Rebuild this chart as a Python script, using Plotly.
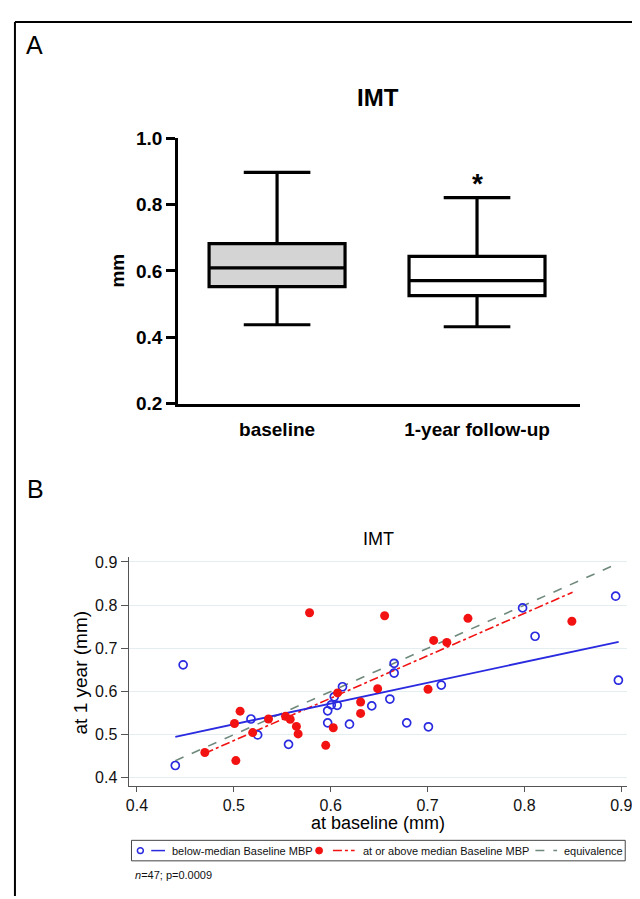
import plotly.graph_objects as go

W, H = 640, 899
OFF = 8  # default page margin of the html body; drawing is shifted to compensate

# ---------------- Panel A data (box summary, mm) ----------------
box_labels = ["baseline", "1-year follow-up"]
box_pos = [0, 1]
box_q1 = [0.553, 0.526]
box_median = [0.609, 0.571]
box_q3 = [0.682, 0.644]
box_low = [0.438, 0.432]
box_high = [0.897, 0.821]
box_fill = ["#d4d4d4", "#ffffff"]
a_yticks = [0.2, 0.4, 0.6, 0.8, 1.0]

# ---------------- Panel B data ----------------
below_x = [0.4477, 0.4396, 0.5177, 0.5246, 0.5565, 0.5969, 0.5969, 0.6006, 0.6067,
           0.6037, 0.6122, 0.6194, 0.6424, 0.7981, 0.8942, 0.8110, 0.6655, 0.6655,
           0.8970, 0.7142, 0.6611, 0.6785, 0.7009]
below_y = [0.6618, 0.4287, 0.5364, 0.4995, 0.4776, 0.5554, 0.5274, 0.5690, 0.5681,
           0.5878, 0.6111, 0.5244, 0.5667, 0.7937, 0.8208, 0.7280, 0.6654, 0.6428,
           0.6262, 0.6149, 0.5826, 0.5274, 0.5183]
above_x = [0.4701, 0.5021, 0.5007, 0.5065, 0.5195, 0.5358, 0.5534, 0.5582, 0.5782,
           0.5646, 0.5664, 0.5949, 0.6027, 0.6071, 0.6309, 0.6309, 0.6485, 0.6557,
           0.7417, 0.8490, 0.7063, 0.7199, 0.7005]
above_y = [0.4588, 0.4400, 0.5260, 0.5545, 0.5048, 0.5364, 0.5425, 0.5357, 0.7824,
           0.5192, 0.5018, 0.4753, 0.5161, 0.5968, 0.5758, 0.5493, 0.6066, 0.7756,
           0.7695, 0.7627, 0.7183, 0.7138, 0.6052]
below_fit_x = [0.4396, 0.8973]
below_fit_y = [0.4950, 0.7152]
above_fit_x = [0.4701, 0.8497]
above_fit_y = [0.4570, 0.8299]
equiv_x = [0.4396, 0.8973]
equiv_y = [0.4396, 0.8973]
b_ticks = [0.4, 0.5, 0.6, 0.7, 0.8, 0.9]

BLUE = "#2a2ae0"
RED = "#f21212"
GRAY = "#6f8a7c"
FONT = "Liberation Sans, Arial, sans-serif"


def px(x):
    return (x - OFF) / W


def py(y):
    return 1 - (y - OFF) / H


fig = go.Figure()

# Panel A boxes
for i in range(2):
    fig.add_trace(go.Box(
        x=[box_pos[i]], q1=[box_q1[i]], median=[box_median[i]], q3=[box_q3[i]],
        lowerfence=[box_low[i]], upperfence=[box_high[i]],
        fillcolor=box_fill[i], line=dict(color="black", width=3.2),
        width=0.68, whiskerwidth=0.49, boxpoints=False,
        xaxis="x", yaxis="y", showlegend=False, hoverinfo="skip"))

# Panel B
fig.add_trace(go.Scatter(x=equiv_x, y=equiv_y, mode="lines",
                         line=dict(color=GRAY, width=1.6, dash="dash"),
                         xaxis="x2", yaxis="y2", showlegend=False))
fig.add_trace(go.Scatter(x=above_fit_x, y=above_fit_y, mode="lines",
                         line=dict(color=RED, width=1.6, dash="dashdot"),
                         xaxis="x2", yaxis="y2", showlegend=False))
fig.add_trace(go.Scatter(x=below_fit_x, y=below_fit_y, mode="lines",
                         line=dict(color=BLUE, width=1.8),
                         xaxis="x2", yaxis="y2", showlegend=False))
fig.add_trace(go.Scatter(x=below_x, y=below_y, mode="markers",
                         marker=dict(symbol="circle-open", size=8, color=BLUE,
                                     line=dict(width=1.7, color=BLUE)),
                         xaxis="x2", yaxis="y2", showlegend=False))
fig.add_trace(go.Scatter(x=above_x, y=above_y, mode="markers",
                         marker=dict(symbol="circle", size=9, color=RED),
                         xaxis="x2", yaxis="y2", showlegend=False))

fig.update_layout(
    width=W, height=H, autosize=False,
    margin=dict(l=0, r=0, t=0, b=0),
    paper_bgcolor="white", plot_bgcolor="white",
    font=dict(family=FONT, color="black"),
    xaxis=dict(domain=[px(177), px(584)], range=[-0.496, 1.514],
               tickvals=box_pos, ticktext=box_labels, showgrid=False, zeroline=False,
               showline=True, linecolor="black", linewidth=2.5, ticks="",
               ticklabelstandoff=7,
               tickfont=dict(size=19, family=FONT, weight="bold", color="black"),
               anchor="y", fixedrange=True),
    yaxis=dict(domain=[py(403), py(131)], range=[0.2, 1.0], tickvals=a_yticks,
               tickformat=".1f", showgrid=False, zeroline=False,
               showline=True, linecolor="black", linewidth=2.5,
               ticks="outside", ticklen=9, tickwidth=2.5, tickcolor="black",
               tickfont=dict(size=19, family=FONT, weight="bold", color="black"),
               anchor="x"),
    xaxis2=dict(domain=[px(127), px(632)], range=[0.3913, 0.9061], tickvals=b_ticks,
                tickformat=".1f", showgrid=False, zeroline=False,
                showline=True, linecolor="#555555", linewidth=1,
                ticks="outside", ticklen=5, tickwidth=1, tickcolor="#555555",
                tickfont=dict(size=16, family=FONT, color="#111111"),
                anchor="y2"),
    yaxis2=dict(domain=[py(794), py(560)], range=[0.382, 0.9113], tickvals=b_ticks,
                tickformat=".1f", showgrid=True, gridcolor="#e4eef0", gridwidth=1,
                zeroline=False, showline=True, linecolor="#555555", linewidth=1,
                ticks="outside", ticklen=7, tickwidth=1, tickcolor="#555555",
                tickfont=dict(size=16, family=FONT, color="#111111"),
                anchor="x2"),
)

ann = []


def text(x, y, s, size, bold=False, xanchor="center", yanchor="middle", angle=0, color="black"):
    ann.append(dict(x=px(x), y=py(y), xref="paper", yref="paper", text=s,
                    showarrow=False, xanchor=xanchor, yanchor=yanchor, textangle=angle,
                    font=dict(size=size, family=FONT, color=color,
                              weight="bold" if bold else "normal")))


text(32, 36, "A", 25)
text(380, 89, "IMT", 24, bold=True)
text(116, 267, "mm", 19, bold=True, angle=-90)
text(33, 490, "B", 25)
text(380, 541, "IMT", 18)
text(380, 832, "at baseline (mm)", 18)
text(78, 678, "at 1 year (mm)", 19, angle=-90)
# significance star above follow-up whisker
ann.append(dict(x=1, y=0.862, xref="x", yref="y", text="*", showarrow=False,
                xanchor="center", yanchor="middle",
                font=dict(size=28, family=FONT, weight="bold", color="black")))

# legend (manual, Stata style)
LY = 860.5
text(169, LY, "below-median Baseline MBP", 11, xanchor="left", color="#111111")
text(362, LY, "at or above median Baseline MBP", 11, xanchor="left", color="#111111")
text(566, LY, "equivalence", 11, xanchor="left", color="#111111")
text(132, 886, "<i>n</i>=47; p=0.0009", 11, xanchor="left", color="#111111")
fig.update_layout(annotations=ann)

shapes = [
    # outer frame
    dict(type="line", xref="paper", yref="paper", x0=px(12), y0=py(12), x1=1, y1=py(12),
         line=dict(color="black", width=2)),
    dict(type="line", xref="paper", yref="paper", x0=px(12), y0=py(12), x1=px(12), y1=0,
         line=dict(color="black", width=2)),
    # legend box
    dict(type="rect", xref="paper", yref="paper", x0=px(130), y0=py(850), x1=px(630), y1=py(871),
         line=dict(color="#444444", width=1)),
    dict(type="circle", xref="paper", yref="paper", x0=px(136), y0=py(LY - 3), x1=px(142), y1=py(LY + 3),
         line=dict(color=BLUE, width=1.5)),
    dict(type="line", xref="paper", yref="paper", x0=px(150), y0=py(LY), x1=px(164), y1=py(LY),
         line=dict(color=BLUE, width=1.5)),
    dict(type="circle", xref="paper", yref="paper", x0=px(316.5), y0=py(LY - 3.5), x1=px(323.5), y1=py(LY + 3.5),
         fillcolor=RED, line=dict(color=RED, width=1)),
    dict(type="line", xref="paper", yref="paper", x0=px(334), y0=py(LY), x1=px(356), y1=py(LY),
         line=dict(color=RED, width=1.5, dash="dashdot")),
    dict(type="line", xref="paper", yref="paper", x0=px(539), y0=py(LY), x1=px(561), y1=py(LY),
         line=dict(color=GRAY, width=1.5, dash="dash")),
]
fig.update_layout(shapes=shapes)

fig.write_html("out.html", config={"displayModeBar": False})
